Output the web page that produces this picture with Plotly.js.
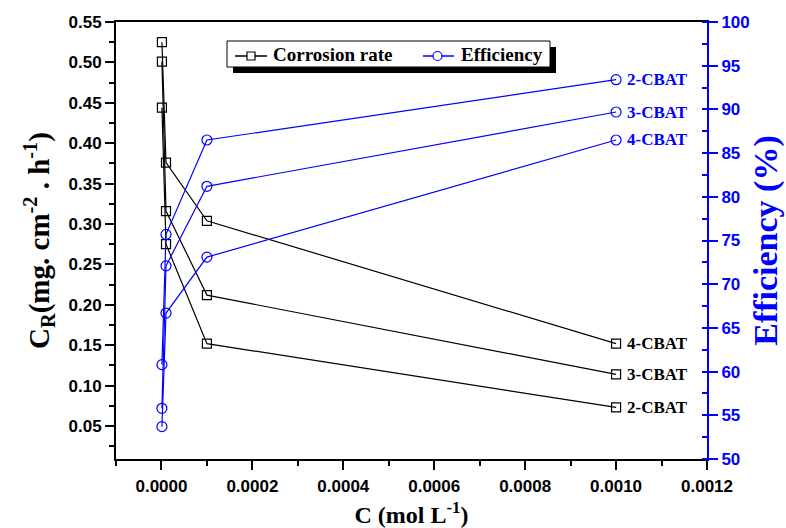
<!DOCTYPE html>
<html>
<head>
<meta charset="utf-8">
<script src="https://cdn.plot.ly/plotly-3.0.1.min.js"></script>
<style>
  html, body { margin: 0; padding: 0; background: #fff; }
  #chart { width: 786px; height: 528px; }
</style>
</head>
<body>
<div id="chart"></div>
<script>
// Inhibitor concentrations (mol L^-1)
const concentrations = [0.000001, 0.00001, 0.0001, 0.001];

// Corrosion rate, mg cm^-2 h^-1
const crateCBAT2 = [0.444, 0.275, 0.152, 0.073];
const crateCBAT3 = [0.501, 0.316, 0.212, 0.114];
const crateCBAT4 = [0.525, 0.376, 0.304, 0.152];

// Inhibition efficiency, %
const effCBAT2 = [60.8, 75.7, 86.5, 93.4];
const effCBAT3 = [55.8, 72.1, 81.2, 89.7];
const effCBAT4 = [53.7, 66.7, 73.1, 86.5];

const inhibitorNames = ['2-CBAT', '3-CBAT', '4-CBAT'];
const seriesNames = ['Corrosion rate', 'Efficiency'];
const xTickValues = [0, 0.0002, 0.0004, 0.0006, 0.0008, 0.0010, 0.0012];
const xTickLabels = ['0.0000', '0.0002', '0.0004', '0.0006', '0.0008', '0.0010', '0.0012'];

const BLUE = '#0000ff';
const SERIF = 'Liberation Serif, Times New Roman, serif';
const SANS = 'Liberation Sans, Arial, sans-serif';

const W = 786, H = 528;
const M = { l: 116, r: 79, t: 22, b: 69 };
const plotW = W - M.l - M.r, plotH = H - M.t - M.b;
// pixel position -> paper fraction (used for the boxed key only)
const px = v => (v - M.l) / plotW;
const py = v => (H - M.b - v) / plotH;

const crateSets = [crateCBAT2, crateCBAT3, crateCBAT4];
const effSets = [effCBAT2, effCBAT3, effCBAT4];

const traces = [];
crateSets.forEach(ys => {
  traces.push({
    x: concentrations, y: ys, type: 'scatter', mode: 'lines+markers',
    name: seriesNames[0], showlegend: false,
    line: { color: '#000', width: 1.2 },
    marker: { symbol: 'square-open', size: 9, color: '#000', line: { width: 1.2 } },
    xaxis: 'x', yaxis: 'y'
  });
});
effSets.forEach(ys => {
  traces.push({
    x: concentrations, y: ys, type: 'scatter', mode: 'lines+markers',
    name: seriesNames[1], showlegend: false,
    line: { color: BLUE, width: 1.2 },
    marker: { symbol: 'circle-open', size: 10, color: BLUE, line: { width: 1.2 } },
    xaxis: 'x', yaxis: 'y2'
  });
});

// End-of-series labels
const annotations = [];
const last = concentrations.length - 1;
inhibitorNames.forEach((name, i) => {
  annotations.push({
    x: concentrations[last], y: effSets[i][last], xref: 'x', yref: 'y2',
    text: name, showarrow: false, xanchor: 'left', xshift: 9,
    font: { family: SERIF, size: 17, color: BLUE, weight: 'bold' }
  });
  annotations.push({
    x: concentrations[last], y: crateSets[i][last], xref: 'x', yref: 'y',
    text: name, showarrow: false, xanchor: 'left', xshift: 9,
    font: { family: SERIF, size: 17, color: '#000', weight: 'bold' }
  });
});

// Boxed key with drop shadow
const keyFont = { family: SERIF, size: 19, color: '#000', weight: 'bold' };
annotations.push({ x: px(271), y: py(55), xref: 'paper', yref: 'paper', xanchor: 'left', yanchor: 'middle',
  text: seriesNames[0], showarrow: false, font: keyFont });
annotations.push({ x: px(459), y: py(55), xref: 'paper', yref: 'paper', xanchor: 'left', yanchor: 'middle',
  text: seriesNames[1], showarrow: false, font: keyFont });

const shapes = [
  { type: 'rect', xref: 'paper', yref: 'paper', layer: 'above',
    x0: px(233), x1: px(556), y0: py(73), y1: py(47), fillcolor: '#000', line: { width: 0 } },
  { type: 'rect', xref: 'paper', yref: 'paper', layer: 'above',
    x0: px(227), x1: px(550), y0: py(67), y1: py(41), fillcolor: '#fff', line: { color: '#000', width: 1 } },
  { type: 'line', xref: 'paper', yref: 'paper', layer: 'above',
    x0: px(235), x1: px(267), y0: py(56), y1: py(56), line: { color: '#000', width: 1.5 } },
  { type: 'rect', xref: 'paper', yref: 'paper', layer: 'above',
    x0: px(247), x1: px(255), y0: py(60), y1: py(52), fillcolor: '#fff', line: { color: '#000', width: 1.2 } },
  { type: 'line', xref: 'paper', yref: 'paper', layer: 'above',
    x0: px(423), x1: px(454), y0: py(56), y1: py(56), line: { color: BLUE, width: 1.5 } },
  { type: 'circle', xref: 'paper', yref: 'paper', layer: 'above',
    x0: px(433), x1: px(442), y0: py(60.5), y1: py(51.5), fillcolor: '#fff', line: { color: BLUE, width: 1.2 } }
];

const tickFont = { family: SANS, size: 17, color: '#000', weight: 'bold' };

const layout = {
  width: W, height: H,
  margin: M,
  paper_bgcolor: '#fff', plot_bgcolor: '#fff',
  showlegend: false,
  xaxis: {
    range: [-0.0001, 0.0012],
    tickvals: xTickValues, ticktext: xTickLabels,
    ticks: 'outside', ticklen: 9, tickwidth: 2, tickcolor: '#000',
    ticklabelstandoff: 2,
    minor: { dtick: 0.0001, tick0: 0, ticks: 'outside', ticklen: 5, tickwidth: 2, tickcolor: '#000', showgrid: false },
    showline: true, linewidth: 2, linecolor: '#000', mirror: true,
    showgrid: false, zeroline: false,
    tickfont: tickFont,
    title: { text: 'C (mol L<sup>-1</sup>)', font: { family: SERIF, size: 24, color: '#000', weight: 'bold' }, standoff: 13 }
  },
  yaxis: {
    range: [0.0092, 0.55],
    tick0: 0.05, dtick: 0.05, tickformat: '.2f',
    ticks: 'outside', ticklen: 9, tickwidth: 2, tickcolor: '#000',
    minor: { dtick: 0.025, tick0: 0.025, ticks: 'outside', ticklen: 5, tickwidth: 2, tickcolor: '#000', showgrid: false },
    showline: true, linewidth: 2, linecolor: '#000',
    showgrid: false, zeroline: false,
    tickfont: tickFont,
    title: { text: 'C<sub>R</sub>(mg. cm<sup>-2</sup> . h<sup>-1</sup>)', font: { family: SERIF, size: 29, color: '#000', weight: 'bold' }, standoff: 10 }
  },
  yaxis2: {
    overlaying: 'y', side: 'right', anchor: 'x',
    range: [50, 100], tick0: 50, dtick: 5,
    ticks: 'outside', ticklen: 9, tickwidth: 2, tickcolor: BLUE,
    minor: { dtick: 2.5, tick0: 2.5, ticks: 'inside', ticklen: 5, tickwidth: 2, tickcolor: BLUE, showgrid: false },
    showline: true, linewidth: 2, linecolor: BLUE,
    showgrid: false, zeroline: false,
    tickfont: Object.assign({}, tickFont, { color: BLUE }),
    title: { text: 'Efficiency (%)', font: { family: SERIF, size: 34, color: BLUE, weight: 'bold' }, standoff: 4 }
  },
  yaxis3: {
    overlaying: 'y', side: 'right', anchor: 'x',
    range: [50, 100], tick0: 50, dtick: 5,
    ticks: 'inside', ticklen: 9, tickwidth: 2, tickcolor: BLUE,
    showticklabels: false, showline: false, showgrid: false, zeroline: false
  },
  shapes: shapes,
  annotations: annotations
};

Plotly.newPlot('chart', traces, layout, { displayModeBar: false, staticPlot: true });
</script>
</body>
</html>
